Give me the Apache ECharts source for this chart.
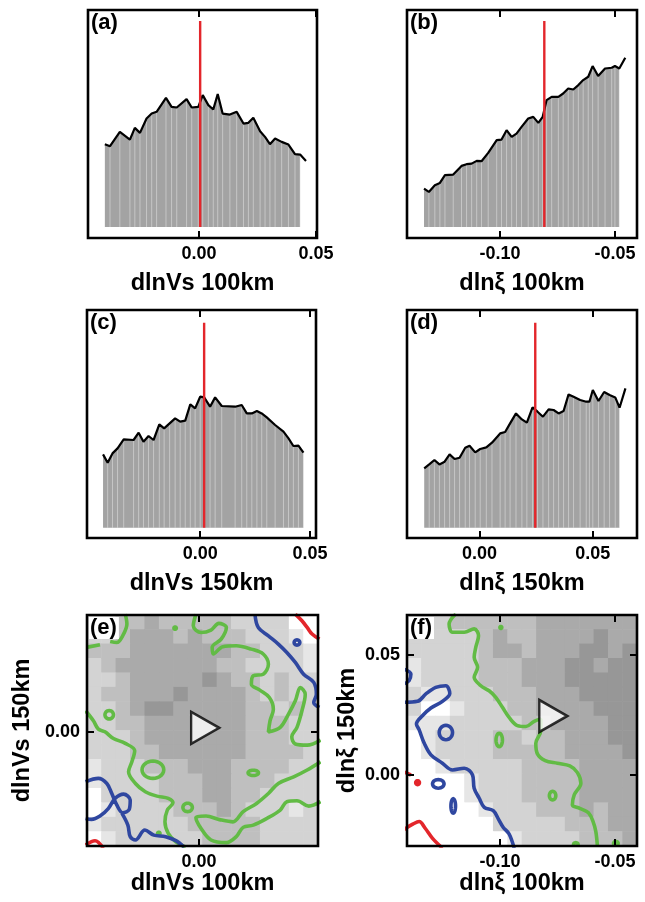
<!DOCTYPE html>
<html><head><meta charset="utf-8">
<script src="https://cdn.jsdelivr.net/npm/echarts@6/dist/echarts.min.js"></script>
<style>html,body{margin:0;padding:0;background:#fff}#c{width:645px;height:902px}</style>
</head><body><div id="c"></div><script>
// ---------- histogram data (frequency in arbitrary units) ----------
const aX = [-0.0402,-0.0380,-0.0338,-0.0295,-0.0274,-0.0252,-0.0224,-0.0202,-0.0181,-0.0141,-0.0117,-0.0095,-0.0053,-0.0031,-0.0003,0.0016,0.0040,0.0061,0.0080,0.0101,0.0132,0.0161,0.0190,0.0211,0.0232,0.0261,0.0282,0.0303,0.0325,0.0353,0.0382,0.0410,0.0432,0.0457];
const aY = [82.7,80.7,95,87.3,99,94,108.3,113.3,115,129,120,119.3,127.7,119.3,120,131.7,121.7,117.3,132.7,113.3,112.3,115,103.3,104,109,95.7,90,82.7,88.3,85,82.3,72.7,72.3,66];
const bX = [-0.1330,-0.1309,-0.1283,-0.1261,-0.1239,-0.1203,-0.1167,-0.1145,-0.1123,-0.1101,-0.1080,-0.1051,-0.1014,-0.0993,-0.0971,-0.0949,-0.0928,-0.0906,-0.0877,-0.0855,-0.0833,-0.0814,-0.0797,-0.0775,-0.0746,-0.0725,-0.0703,-0.0681,-0.0659,-0.0638,-0.0616,-0.0597,-0.0573,-0.0543,-0.0514,-0.0500,-0.0481,-0.0455];
const bY = [38.3,35,41.7,44,51.7,52.3,61,62.7,63.3,66,65.7,74,86.7,87.3,96.7,90,93.3,100,108.3,110,104,110,126.7,130,130,133.3,138.3,137.3,141.7,146.7,150,160.7,150.7,158.3,159,160.7,158.3,169];
const cX = [-0.0442,-0.0421,-0.0399,-0.0376,-0.0348,-0.0303,-0.0280,-0.0258,-0.0235,-0.0212,-0.0186,-0.0164,-0.0139,-0.0114,-0.0091,-0.0068,-0.0045,-0.0023,0.0000,0.0018,0.0045,0.0068,0.0098,0.0159,0.0189,0.0212,0.0235,0.0258,0.0280,0.0303,0.0341,0.0379,0.0402,0.0424,0.0447,0.0470];
const cY = [73.3,65,74.3,79.3,88.3,87.7,95,86,91.7,87.7,103.3,99.3,104.3,109.3,106,107,123.3,119.3,131,130.3,121,130.3,121.7,121,122.7,114.3,114.3,116.7,114.3,110.3,102.7,96,89.3,81.7,82,75];
const dX = [-0.0244,-0.0222,-0.0199,-0.0177,-0.0154,-0.0132,-0.0110,-0.0088,-0.0063,-0.0044,-0.0019,0.0003,0.0030,0.0055,0.0091,0.0113,0.0135,0.0161,0.0187,0.0209,0.0234,0.0256,0.0280,0.0305,0.0327,0.0349,0.0371,0.0393,0.0415,0.0444,0.0471,0.0485,0.0500,0.0525,0.0550,0.0574,0.0599,0.0618,0.0644];
const dY = [59.3,63.3,67.7,63.3,66,73.3,68.7,70,80,82,75.3,78.7,80.3,85,94.3,95.7,104.3,114.3,108.3,105,120.3,116,111,118.3,117.7,114.3,116.7,133.3,131,127.7,126,126,137.7,126.7,135.7,132.7,130.3,120,139.3];
// observed values (red lines / triangles) and red line heights
const obsX = [0.0005, -0.0807, 0.0018, 0.0246];   // a, b, c, d
const redTop = [205.7, 205.7, 205, 205];
// axis ranges
const rangeVs100 = [-0.0474, 0.0504];
const rangeXi100 = [-0.1404, -0.0404];
const rangeVs150 = [-0.0515, 0.0527];
const rangeXi150 = [-0.0320, 0.0695];
const rangeXi150f = [-0.0296, 0.0667];
const ticksVs = [0, 0.05];
const ticksXi100 = [-0.10, -0.05];
const ticksXi150 = [0, 0.05];
const ticksE = [0];

// ---------- contour panels: gray-level fields (16x16, row 0 = top) ----------
const eField = ["2233433333222200","2234443433322210","3334444444332221","2344444443322221",
"2234444454332322","2334445444432322","2234554444433232","2233444444433322",
"2223444444433322","2223344444433332","1222333444333322","1222233344333222",
"0222233344332222","0122223334322212","1222222333332222","0122222233332222"];
const fField = ["2223333334444444","2222234334444544","2222234434445545","1222233344455455",
"1222233344455555","2112223334445555","2001222334444555","1112222233444455",
"0122223323344455","0122223333344445","0012222233334444","0000122233334444",
"0000122233334444","0000012223334344","0000002222233344","0000000122223334"];
const grayShades = ['#ffffff','#e6e6e6','#d3d3d3','#bfbfbf','#aaaaaa','#979797'];

// contour lines (x, y in data units)
const eGreenTop = [[-0.0013,0.053],[-0.0024,0.0478],[0.0009,0.0448],[0.0051,0.0459],[0.0084,0.0489],[0.0116,0.0471],[0.0094,0.0418],[0.0056,0.0381],[0.0061,0.0351],[0.0101,0.0384],[0.0158,0.0388],[0.0222,0.0373],[0.0272,0.0351],[0.0294,0.0305],[0.0272,0.0260],[0.0230,0.0253],[0.0222,0.0215],[0.0258,0.0188],[0.0298,0.0155],[0.0315,0.0102],[0.0301,0.0050],[0.0294,-0.0001],[0.0344,0.0020],[0.0379,0.0080],[0.0408,0.0140],[0.0429,0.0200],[0.0450,0.0170],[0.0436,0.0095],[0.0415,0.0020],[0.0393,-0.0022],[0.0408,-0.0055],[0.0458,-0.0060],[0.0515,-0.0037]];
const eGreenTL = [[-0.0312,0.0531],[-0.0305,0.0486],[-0.0323,0.0433],[-0.0348,0.0403],[-0.0376,0.0408]];
const eGreenBar = [[-0.0476,0.0381],[-0.0419,0.0393]];
const eGreenLeft = [[-0.0480,0.0095],[-0.0447,0.0050],[-0.0426,0.0012],[-0.0398,0.0000],[-0.0362,-0.0030],[-0.0312,-0.0052],[-0.0272,-0.0085],[-0.0284,-0.0135],[-0.0298,-0.0180],[-0.0269,-0.0233],[-0.0227,-0.0270],[-0.0177,-0.0290],[-0.0130,-0.0300],[-0.0110,-0.0320],[-0.0134,-0.0353],[-0.0144,-0.0406],[-0.0130,-0.0458],[-0.0098,-0.0496],[-0.0056,-0.0520]];
const eGreenBot = [[0.0515,-0.0135],[0.0458,-0.0172],[0.0401,-0.0203],[0.0336,-0.0233],[0.0294,-0.0278],[0.0244,-0.0323],[0.0187,-0.0360],[0.0144,-0.0406],[0.0087,-0.0396],[0.0030,-0.0380],[-0.0013,-0.0386],[0.0009,-0.0436],[0.0051,-0.0488],[0.0116,-0.0500],[0.0158,-0.0473],[0.0187,-0.0431],[0.0230,-0.0421],[0.0287,-0.0391],[0.0344,-0.0353],[0.0372,-0.0315],[0.0415,-0.0311],[0.0465,-0.0335],[0.0515,-0.0315]];
const eGreenLoops = [[-0.0195,-0.0171,0.0046,0.0039],[-0.0048,-0.0341,0.0020,0.0019],[0.0230,-0.0185,0.0022,0.0012],[-0.0380,0.0077,0.0018,0.0019],[-0.0101,0.0468,0.0005,0.0005],[-0.0170,-0.0458,0.0005,0.0005]];
const eBlueTR = [[0.0237,0.0531],[0.0251,0.0471],[0.0294,0.0433],[0.0336,0.0396],[0.0372,0.0358],[0.0408,0.0313],[0.0443,0.0260],[0.0486,0.0223],[0.0497,0.0170],[0.0486,0.0132],[0.0510,0.0110]];
const eBlueBL1 = [[-0.0480,-0.0225],[-0.0426,-0.0210],[-0.0390,-0.0233],[-0.0369,-0.0278],[-0.0348,-0.0330],[-0.0323,-0.0365],[-0.0295,-0.0350],[-0.0291,-0.0308],[-0.0319,-0.0281],[-0.0355,-0.0300],[-0.0383,-0.0345],[-0.0419,-0.0380],[-0.0455,-0.0395],[-0.0480,-0.0391]];
const eBlueBL2 = [[-0.0326,-0.0368],[-0.0301,-0.0421],[-0.0291,-0.0473],[-0.0269,-0.0488],[-0.0229,-0.0443],[-0.0191,-0.0466],[-0.0141,-0.0473],[-0.0098,-0.0491],[-0.0063,-0.0520]];
const eBlueLoops = [[0.0415,0.0403,0.0012,0.0012]];
const eRedTR = [[0.0408,0.0531],[0.0436,0.0501],[0.0458,0.0471],[0.0479,0.0441],[0.0510,0.0418]];
const eRedBL = [[-0.0480,-0.0511],[-0.0440,-0.0491],[-0.0405,-0.0525]];

const fGreen = [[-0.1192,0.0671],[-0.1221,0.0629],[-0.1206,0.0595],[-0.1155,0.0595],[-0.1112,0.0609],[-0.1093,0.0581],[-0.1105,0.0532],[-0.1112,0.0491],[-0.1097,0.0449],[-0.1112,0.0407],[-0.1083,0.0372],[-0.1047,0.0351],[-0.1018,0.0324],[-0.0989,0.0282],[-0.0960,0.0240],[-0.0924,0.0206],[-0.0887,0.0202],[-0.0851,0.0224],[-0.0822,0.0233],[-0.0822,0.0185],[-0.0844,0.0132],[-0.0837,0.0088],[-0.0803,0.0060],[-0.0750,0.0049],[-0.0696,0.0038],[-0.0663,0.0010],[-0.0648,-0.0034],[-0.0677,-0.0083],[-0.0685,-0.0125],[-0.0653,-0.0139],[-0.0615,-0.0157],[-0.0595,-0.0194],[-0.0583,-0.0236],[-0.0576,-0.0299]];
const fGreenLoops = [[-0.1003,0.0146,0.0014,0.0028],[-0.0771,-0.0086,0.0014,0.0018],[-0.0996,0.0615,0.0004,0.0004],[-0.0670,-0.0290,0.0010,0.0008],[-0.0496,-0.0285,0.0010,0.0008]];
const fBlue = [[-0.1420,0.0303],[-0.1358,0.0307],[-0.1322,0.0338],[-0.1279,0.0365],[-0.1235,0.0372],[-0.1218,0.0340],[-0.1250,0.0307],[-0.1300,0.0279],[-0.1337,0.0247],[-0.1363,0.0213],[-0.1351,0.0188],[-0.1329,0.0132],[-0.1300,0.0084],[-0.1250,0.0049],[-0.1206,0.0021],[-0.1155,0.0028],[-0.1119,0.0000],[-0.1112,-0.0055],[-0.1090,-0.0097],[-0.1068,-0.0135],[-0.1029,-0.0149],[-0.1006,-0.0185],[-0.0986,-0.0218],[-0.0960,-0.0246],[-0.0938,-0.0305]];
const fBlueEdge = [[-0.1420,0.0442],[-0.1387,0.0421],[-0.1395,0.0393],[-0.1420,0.0379]];
const fBlueLoops = [[-0.1235,0.0177,0.0029,0.0030],[-0.1268,-0.0037,0.0025,0.0018],[-0.1203,-0.0129,0.0010,0.0030]];
const fRed = [[-0.1420,-0.0229],[-0.1377,-0.0204],[-0.1351,-0.0194],[-0.1325,-0.0222],[-0.1293,-0.0264],[-0.1250,-0.0305]];
const fRedEdge = [[-0.1420,0.0014],[-0.1387,0.0000]];
const fRedLoops = [[-0.1358,-0.0032,0.0008,0.0008]];

// ---------- styling ----------
const FONT = "'Liberation Sans', Arial, Helvetica, sans-serif";
const GREEN = '#62bb45', BLUE = '#2f47a0', RED = '#e3262b';
const grids = [], xAxes = [], yAxes = [], series = [], titles = [];

function tickStyle(vals){ return {show:true, inside:true, length:7, lineStyle:{color:'#000', width:2}, customValues: vals}; }
function labelStyle(vals){ return {show:true, customValues: vals, formatter: v => v.toFixed(2), fontSize:18, fontWeight:'bold', color:'#000', fontFamily:FONT, margin:7}; }
const nameStyle = {fontSize:23.5, fontWeight:'bold', color:'#000', fontFamily:FONT};
const noLine = {show:false, onZero:false};

function addGrid(box, label){
  const gi = grids.length;
  grids.push(Object.assign({show:true, borderColor:'#000', borderWidth:2.6, backgroundColor:'transparent', z:10}, box));
  titles.push({text:label, left: box.left + 2, top: box.top + 2, padding:[0,2,0,1], backgroundColor:'#fff',
    textStyle:{fontSize:22, fontWeight:'bold', color:'#000', fontFamily:FONT}, z:12});
  return gi;
}
function addXAxes(gi, range, ticks, name, nameGap){
  const bi = xAxes.length;
  xAxes.push({gridIndex:gi, type:'value', position:'bottom', min:range[0], max:range[1], axisLine:noLine,
    axisTick:tickStyle(ticks), axisLabel:labelStyle(ticks), splitLine:{show:false},
    name:name, nameLocation:'middle', nameGap:nameGap, nameTextStyle:nameStyle, z:11});
  xAxes.push({gridIndex:gi, type:'value', position:'top', min:range[0], max:range[1], axisLine:noLine,
    axisTick:tickStyle(ticks), axisLabel:{show:false}, splitLine:{show:false}, z:11});
  return bi;
}

function histogram(box, label, xs, ys, fillN, obs, top, yr, xr, ticks, name){
  const gi = addGrid(box, label);
  const xi = addXAxes(gi, xr, ticks, name, 34);
  const yi = yAxes.length;
  yAxes.push({gridIndex:gi, type:'value', min:yr[0], max:yr[1], show:false, axisLine:noLine});
  const pts = xs.map((x,i)=>[x, ys[i]]);
  const filled = pts.slice(0, fillN);
  series.push({type:'line', xAxisIndex:xi, yAxisIndex:yi, data:filled, symbol:'none', silent:true,
    lineStyle:{width:0}, areaStyle:{color:'#a3a3a3', opacity:1}, z:2});
  series.push({type:'custom', xAxisIndex:xi, yAxisIndex:yi, data:filled.slice(1), silent:true, z:3,
    renderItem:(p, api)=>{ const a = api.coord([api.value(0),0]); const b = api.coord([api.value(0),api.value(1)]);
      return {type:'line', shape:{x1:a[0],y1:a[1],x2:b[0],y2:b[1]}, style:{stroke:'rgba(255,255,255,0.38)', lineWidth:1}}; }});
  series.push({type:'line', xAxisIndex:xi, yAxisIndex:yi, data:pts, symbol:'none', silent:true,
    lineStyle:{color:'#000', width:2.2}, z:4});
  series.push({type:'line', xAxisIndex:xi, yAxisIndex:yi, data:[[obs,0],[obs,top]], symbol:'none', silent:true,
    lineStyle:{color:RED, width:2.4}, z:5});
}

function contourPanel(box, label, xr, yr, xticks, yticks, xname, yname, yGap, field, lines, loops, obs, triShift){
  const gi = addGrid(box, label);
  const xi = addXAxes(gi, xr, xticks, xname, 26);
  const yi = yAxes.length;
  yAxes.push({gridIndex:gi, type:'value', position:'left', min:yr[0], max:yr[1], axisLine:noLine,
    axisTick:tickStyle(yticks), axisLabel:labelStyle(yticks), splitLine:{show:false},
    name:yname, nameLocation:'middle', nameGap:yGap, nameRotate:90, nameTextStyle:nameStyle, z:11});
  yAxes.push({gridIndex:gi, type:'value', position:'right', min:yr[0], max:yr[1], axisLine:noLine,
    axisTick:tickStyle(yticks), axisLabel:{show:false}, splitLine:{show:false}, z:11});
  const n = field.length, m = field[0].length;
  const cells = [];
  field.forEach((row, r)=>{ for (let c=0;c<m;c++) cells.push([c, r, +row[c]]); });
  const dx = (xr[1]-xr[0])/m, dy = (yr[1]-yr[0])/n;
  series.push({type:'custom', xAxisIndex:xi, yAxisIndex:yi, data:cells, silent:true, z:1,
    renderItem:(p, api)=>{
      const c = api.value(0), r = api.value(1), lv = api.value(2);
      const a = api.coord([xr[0]+c*dx, yr[1]-r*dy]);
      const b = api.coord([xr[0]+(c+1)*dx, yr[1]-(r+1)*dy]);
      return {type:'rect', shape:{x:a[0]-0.3, y:a[1]-0.3, width:b[0]-a[0]+0.6, height:b[1]-a[1]+0.6},
        style:{fill:grayShades[lv]}};
    }});
  lines.forEach(([pts, color])=>{
    series.push({type:'line', xAxisIndex:xi, yAxisIndex:yi, data:pts, symbol:'none', silent:true, smooth:0.35,
      clip:true, lineStyle:{color:color, width:3.6}, z:3});
  });
  loops.forEach(([arr, color])=>{
    series.push({type:'custom', xAxisIndex:xi, yAxisIndex:yi, data:arr, silent:true, clip:true, z:3,
      renderItem:(p, api)=>{
        const c = api.coord([api.value(0), api.value(1)]);
        const s = api.size([api.value(2), api.value(3)]);
        const pts = [];
        for (let k=0;k<28;k++){ const t = k/28*Math.PI*2; pts.push([c[0]+s[0]*Math.cos(t), c[1]+s[1]*Math.sin(t)]); }
        return {type:'polygon', shape:{points:pts}, style:{fill:'none', stroke:color, lineWidth:3.6}};
      }});
  });
  series.push({type:'scatter', xAxisIndex:xi, yAxisIndex:yi, data:[obs], symbol:'triangle', symbolSize:[32,28],
    symbolRotate:-90, symbolOffset:[triShift,0], silent:true, itemStyle:{color:'#fff', borderColor:'#000', borderWidth:2.5}, z:6});
}

histogram({left:88, top:10, width:229, height:228}, '(a)', aX, aY, aX.length-1, obsX[0], redTop[0], [-11,216.7], rangeVs100, ticksVs, 'dlnVs 100km');
histogram({left:407, top:10, width:230, height:228}, '(b)', bX, bY, bX.length-1, obsX[1], redTop[1], [-11,216.7], rangeXi100, ticksXi100, 'dlnξ 100km');
histogram({left:87, top:310, width:229, height:228}, '(c)', cX, cY, cX.length, obsX[2], redTop[2], [-10.3,217.7], rangeVs150, ticksVs, 'dlnVs 150km');
histogram({left:407, top:310, width:230, height:228}, '(d)', dX, dY, dX.length-1, obsX[3], redTop[3], [-10.3,217.7], rangeXi150, ticksXi150, 'dlnξ 150km');

contourPanel({left:87, top:615, width:231, height:231}, '(e)', rangeVs100, rangeVs150, ticksE, ticksE, 'dlnVs 100km', 'dlnVs 150km', 52, eField,
  [[eGreenTop,GREEN],[eGreenTL,GREEN],[eGreenBar,GREEN],[eGreenLeft,GREEN],[eGreenBot,GREEN],[eBlueTR,BLUE],[eBlueBL1,BLUE],[eBlueBL2,BLUE],[eRedTR,RED],[eRedBL,RED]],
  [[eGreenLoops,GREEN],[eBlueLoops,BLUE]], [obsX[0], obsX[2]], 5);
contourPanel({left:407, top:615, width:230, height:231}, '(f)', rangeXi100, rangeXi150f, ticksXi100, ticksXi150, 'dlnξ 100km', 'dlnξ 150km', 47, fField,
  [[fGreen,GREEN],[fBlue,BLUE],[fBlueEdge,BLUE],[fRed,RED],[fRedEdge,RED]],
  [[fGreenLoops,GREEN],[fBlueLoops,BLUE],[fRedLoops,RED]], [obsX[1], obsX[3]], 9);

const chart = echarts.init(document.getElementById('c'), null, {renderer:'canvas'});
chart.setOption({animation:false, backgroundColor:'#fff', title:titles, grid:grids, xAxis:xAxes, yAxis:yAxes, series:series});
</script></body></html>
